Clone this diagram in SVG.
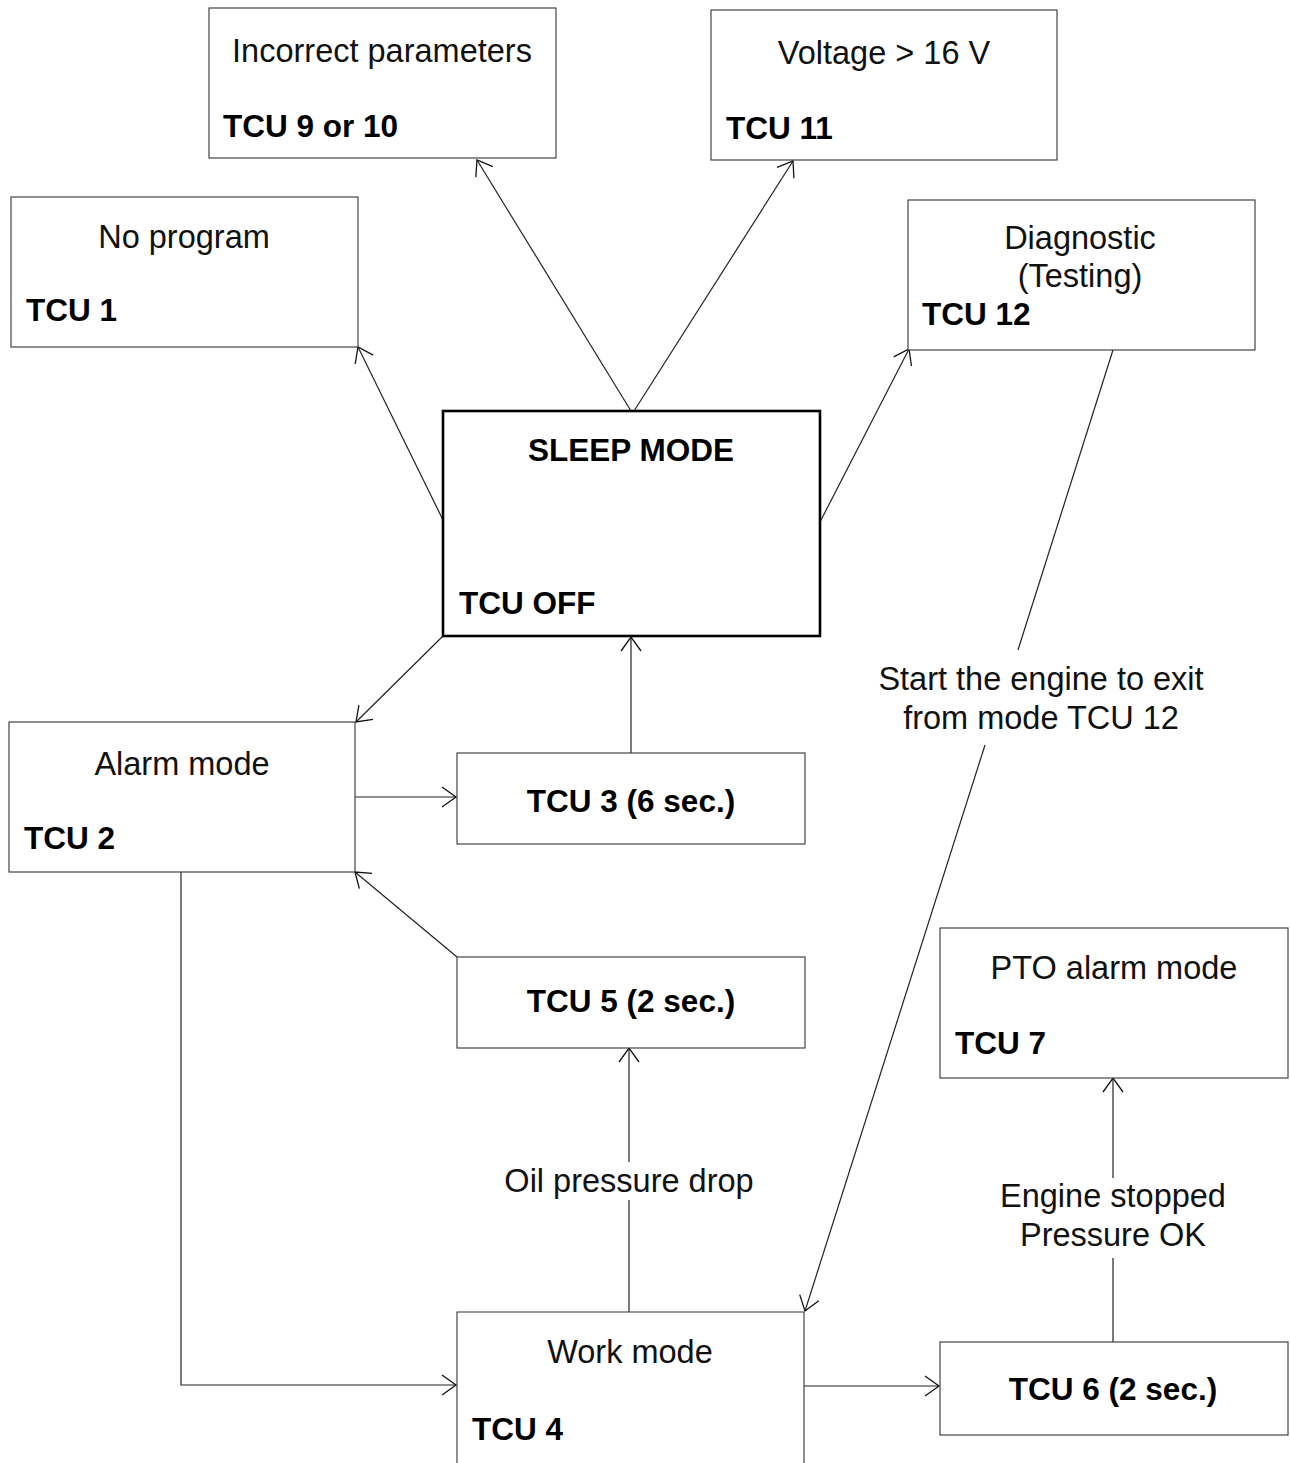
<svg xmlns="http://www.w3.org/2000/svg" width="1290" height="1463" viewBox="0 0 1290 1463">
<defs>
<marker id="ah" markerUnits="userSpaceOnUse" markerWidth="24" markerHeight="24" refX="19" refY="12" orient="auto" viewBox="0 0 24 24">
<path d="M5,2 L19,12 L5,22" fill="none" stroke="#111" stroke-width="1.3"/>
</marker>
</defs>
<style>
.box{fill:#fff;stroke:#333;stroke-width:1.1}
.main{fill:#fff;stroke:#000;stroke-width:2.6}
.t{font-family:"Liberation Sans",Arial,sans-serif;font-size:32.5px;fill:#111}
.c{text-anchor:middle}
.b{font-weight:bold;fill:#000;font-size:31.5px}
.ln{fill:none;stroke:#222;stroke-width:1.2}
.ar{marker-end:url(#ah)}
</style>
<rect width="1290" height="1463" fill="#fff"/>

<g id="connectors">
<line class="ln ar" x1="631" y1="411" x2="477" y2="160"/>
<line class="ln ar" x1="634" y1="411" x2="793" y2="161"/>
<line class="ln ar" x1="443" y1="520" x2="358" y2="347"/>
<line class="ln ar" x1="820" y1="522" x2="909" y2="349"/>
<line class="ln ar" x1="443" y1="636" x2="356" y2="722"/>
<line class="ln ar" x1="631" y1="753" x2="631" y2="637"/>
<line class="ln ar" x1="355" y1="797" x2="456" y2="797"/>
<line class="ln ar" x1="457" y1="957" x2="355" y2="872"/>
<polyline class="ln ar" points="181,872 181,1385 456,1385"/>
<line class="ln" x1="629" y1="1312" x2="629" y2="1200"/>
<line class="ln ar" x1="629" y1="1162" x2="629" y2="1048"/>
<line class="ln" x1="1113" y1="350" x2="1018" y2="650"/>
<line class="ln ar" x1="985" y1="745" x2="805" y2="1311"/>
<line class="ln ar" x1="804" y1="1386" x2="939" y2="1386"/>
<line class="ln" x1="1113" y1="1342" x2="1113" y2="1258"/>
<line class="ln ar" x1="1113" y1="1178" x2="1113" y2="1078"/>
</g>

<g id="n-incorrect">
<rect class="box" x="209" y="8" width="347" height="150"/>
<text class="t c" x="382" y="62">Incorrect parameters</text>
<text class="t b" x="223" y="137">TCU 9 or 10</text>
</g>
<g id="n-voltage">
<rect class="box" x="711" y="10" width="346" height="150"/>
<text class="t c" x="884" y="64">Voltage &gt; 16 V</text>
<text class="t b" x="726" y="139">TCU 11</text>
</g>
<g id="n-noprogram">
<rect class="box" x="11" y="197" width="347" height="150"/>
<text class="t c" x="184" y="248">No program</text>
<text class="t b" x="26" y="321">TCU 1</text>
</g>
<g id="n-diagnostic">
<rect class="box" x="908" y="200" width="347" height="150"/>
<text class="t c" x="1080" y="249">Diagnostic</text>
<text class="t c" x="1080" y="287">(Testing)</text>
<text class="t b" x="922" y="325">TCU 12</text>
</g>
<g id="n-sleep">
<rect class="main" x="443" y="411" width="377" height="225"/>
<text class="t b c" x="631" y="461">SLEEP MODE</text>
<text class="t b" x="459" y="614">TCU OFF</text>
</g>
<g id="n-alarm">
<rect class="box" x="9" y="722" width="346" height="150"/>
<text class="t c" x="182" y="775">Alarm mode</text>
<text class="t b" x="24" y="849">TCU 2</text>
</g>
<g id="n-tcu3">
<rect class="box" x="457" y="753" width="348" height="91"/>
<text class="t b c" x="631" y="812">TCU 3 (6 sec.)</text>
</g>
<g id="n-tcu5">
<rect class="box" x="457" y="957" width="348" height="91"/>
<text class="t b c" x="631" y="1012">TCU 5 (2 sec.)</text>
</g>
<g id="n-pto">
<rect class="box" x="940" y="928" width="348" height="150"/>
<text class="t c" x="1114" y="979">PTO alarm mode</text>
<text class="t b" x="955" y="1054">TCU 7</text>
</g>
<g id="n-work">
<path class="box" d="M457,1463 V1312 H804 V1463" fill="#fff"/>
<text class="t c" x="630" y="1363">Work mode</text>
<text class="t b" x="472" y="1440">TCU 4</text>
</g>
<g id="n-tcu6">
<rect class="box" x="940" y="1342" width="348" height="93"/>
<text class="t b c" x="1113" y="1400">TCU 6 (2 sec.)</text>
</g>

<g id="labels">
<text class="t c" x="629" y="1192">Oil pressure drop</text>
<text class="t c" x="1041" y="690">Start the engine to exit</text>
<text class="t c" x="1041" y="729">from mode TCU 12</text>
<text class="t c" x="1113" y="1207">Engine stopped</text>
<text class="t c" x="1113" y="1246">Pressure OK</text>
</g>
</svg>
